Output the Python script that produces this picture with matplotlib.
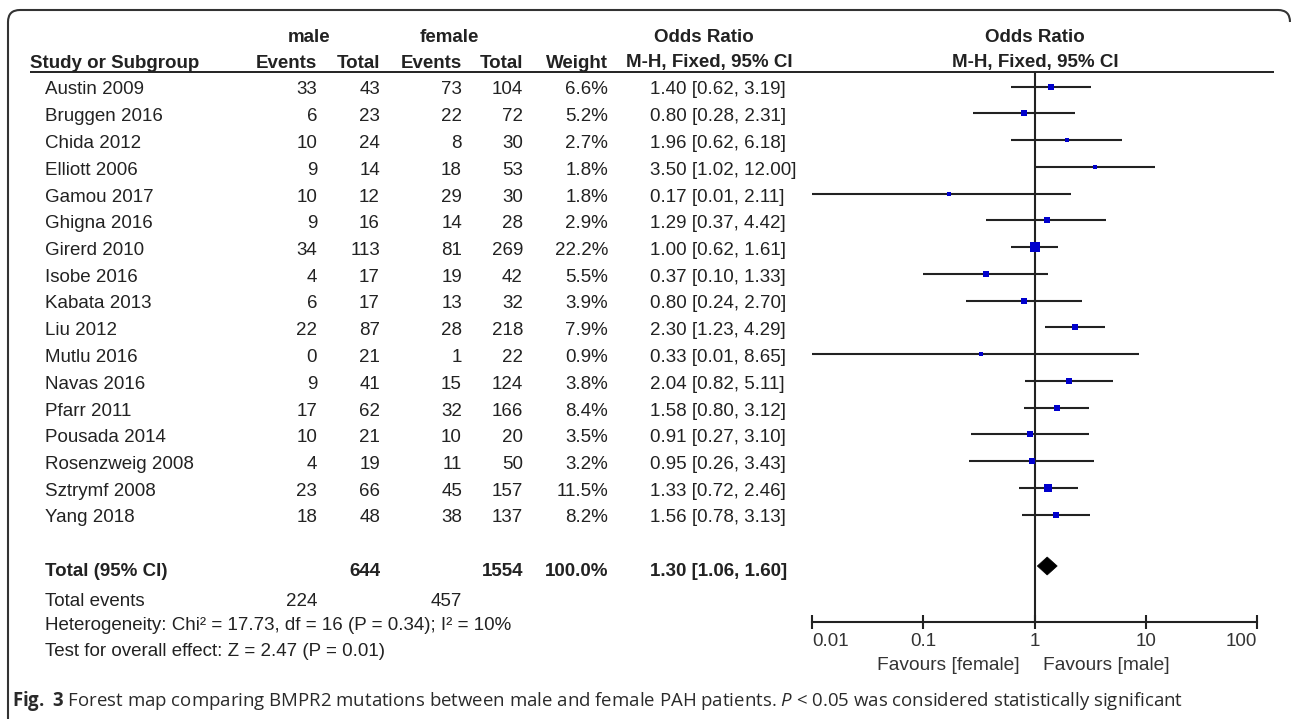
import matplotlib
matplotlib.use("Agg")
import matplotlib.pyplot as plt
import numpy as np
from matplotlib.path import Path
from matplotlib.patches import PathPatch, Polygon

# ---------------- data ----------------
studies = ["Austin 2009", "Bruggen 2016", "Chida 2012", "Elliott 2006", "Gamou 2017",
           "Ghigna 2016", "Girerd 2010", "Isobe 2016", "Kabata 2013", "Liu 2012",
           "Mutlu 2016", "Navas 2016", "Pfarr 2011", "Pousada 2014", "Rosenzweig 2008",
           "Sztrymf 2008", "Yang 2018"]
male_events = [33, 6, 10, 9, 10, 9, 34, 4, 6, 22, 0, 9, 17, 10, 4, 23, 18]
male_total = [43, 23, 24, 14, 12, 16, 113, 17, 17, 87, 21, 41, 62, 21, 19, 66, 48]
female_events = [73, 22, 8, 18, 29, 14, 81, 19, 13, 28, 1, 15, 32, 10, 11, 45, 38]
female_total = [104, 72, 30, 53, 30, 28, 269, 42, 32, 218, 22, 124, 166, 20, 50, 157, 137]
weight = [6.6, 5.2, 2.7, 1.8, 1.8, 2.9, 22.2, 5.5, 3.9, 7.9, 0.9, 3.8, 8.4, 3.5, 3.2, 11.5, 8.2]
odds_ratio = [1.40, 0.80, 1.96, 3.50, 0.17, 1.29, 1.00, 0.37, 0.80, 2.30, 0.33, 2.04, 1.58, 0.91, 0.95, 1.33, 1.56]
ci_low = [0.62, 0.28, 0.62, 1.02, 0.01, 0.37, 0.62, 0.10, 0.24, 1.23, 0.01, 0.82, 0.80, 0.27, 0.26, 0.72, 0.78]
ci_high = [3.19, 2.31, 6.18, 12.00, 2.11, 4.42, 1.61, 1.33, 2.70, 4.29, 8.65, 5.11, 3.12, 3.10, 3.43, 2.46, 3.13]

total_male = 644
total_female = 1554
total_weight = "100.0%"
total_or, total_low, total_high = 1.30, 1.06, 1.60
events_male_total = 224
events_female_total = 457
heterogeneity = "Heterogeneity: Chi\u00b2 = 17.73, df = 16 (P = 0.34); I\u00b2 = 10%"
overall = "Test for overall effect: Z = 2.47 (P = 0.01)"
tick_values = [0.01, 0.1, 1, 10, 100]
tick_labels = ["0.01", "0.1", "1", "10", "100"]
favours_left = "Favours [female]"
favours_right = "Favours [male]"

# ---------------- layout ----------------
W, H = 1292, 719
fig = plt.figure(figsize=(W / 100, H / 100), dpi=100)
fig.patch.set_facecolor("white")

ax = fig.add_axes([0, 0, 1, 1])
ax.set_xlim(0, W)
ax.set_ylim(H, 0)
ax.axis("off")

TXT = "#222222"
FONT = "Liberation Sans"
FS = 13.5

row0, dy = 86.5, 26.75
text_off = 3.5
rows_y = [row0 + dy * i for i in range(len(studies))]

x_name = 45
x_me, x_mt, x_fe, x_ft, x_w, x_or = 317, 380, 462, 523, 608, 650

def T(x, y, s, ha="left", bold=False, size=FS, color=TXT, family=FONT):
    ax.text(x, y, s, ha=ha, va="center", fontsize=size, color=color,
            fontweight="bold" if bold else "normal", family=family)

# header
T(309, 37, "male", ha="center", bold=True)
T(449, 37, "female", ha="center", bold=True)
T(704, 37, "Odds Ratio", ha="center", bold=True)
T(1035, 37, "Odds Ratio", ha="center", bold=True)
T(30, 63, "Study or Subgroup", bold=True)
T(x_me, 63, "Events", ha="right", bold=True)
T(x_mt, 63, "Total", ha="right", bold=True)
T(x_fe, 63, "Events", ha="right", bold=True)
T(x_ft, 63, "Total", ha="right", bold=True)
T(x_w, 63, "Weight", ha="right", bold=True)
T(709, 63, "M-H, Fixed, 95% CI", ha="center", bold=True)
T(1035, 63, "M-H, Fixed, 95% CI", ha="center", bold=True)
ax.plot([30, 1274], [72, 72], color="#222222", lw=1.4, solid_capstyle="butt")

for i, name in enumerate(studies):
    y = rows_y[i] + text_off
    T(x_name, y, name)
    T(x_me, y, str(male_events[i]), ha="right")
    T(x_mt, y, str(male_total[i]), ha="right")
    T(x_fe, y, str(female_events[i]), ha="right")
    T(x_ft, y, str(female_total[i]), ha="right")
    T(x_w, y, f"{weight[i]:.1f}%", ha="right")
    T(x_or, y, f"{odds_ratio[i]:.2f} [{ci_low[i]:.2f}, {ci_high[i]:.2f}]")

ytot = 571
T(x_name, ytot, "Total (95% CI)", bold=True)
T(x_mt, ytot, str(total_male), ha="right", bold=True)
T(x_ft, ytot, str(total_female), ha="right", bold=True)
T(x_w, ytot, total_weight, ha="right", bold=True)
T(x_or, ytot, f"{total_or:.2f} [{total_low:.2f}, {total_high:.2f}]", bold=True)
T(x_name, 601, "Total events")
T(x_me, 601, str(events_male_total), ha="right")
T(x_fe, 601, str(events_female_total), ha="right")
T(x_name, 626, heterogeneity)
T(x_name, 651, overall)

# frame (rounded top corners, left side)
r = 12
verts = [(8, H), (8, 10 + r), (8, 10), (8 + r, 10), (1290 - r, 10), (1290, 10), (1290, 10 + r)]
codes = [Path.MOVETO, Path.LINETO, Path.CURVE3, Path.CURVE3, Path.LINETO, Path.CURVE3, Path.CURVE3]
ax.add_patch(PathPatch(Path(verts, codes), fill=False, edgecolor="#333333", lw=1.5))

# ---------------- forest axes ----------------
x0, x1, ytop, ybot = 812, 1257, 72, 622
fax = fig.add_axes([x0 / W, 1 - ybot / H, (x1 - x0) / W, (ybot - ytop) / H])
fax.set_xscale("log")
fax.set_xlim(0.01, 100)
fax.set_ylim(ybot, ytop)
fax.patch.set_alpha(0)
for s in ["top", "left", "right"]:
    fax.spines[s].set_visible(False)
fax.spines["bottom"].set_linewidth(1.5)
fax.spines["bottom"].set_color("#222222")
fax.set_yticks([])
fax.set_xticks(tick_values)
fax.set_xticklabels(tick_labels)
fax.xaxis.set_minor_locator(matplotlib.ticker.NullLocator())
fax.tick_params(axis="x", direction="inout", length=10, width=1.5, color="#222222",
                labelsize=FS, labelcolor="#333333", pad=3)
labs = fax.get_xticklabels()
for lab in labs:
    lab.set_family(FONT)
labs[0].set_horizontalalignment("left")
labs[-1].set_horizontalalignment("right")

fax.axvline(1, color="#222222", lw=1.5, zorder=1)

for i in range(len(studies)):
    y = rows_y[i]
    fax.plot([ci_low[i], ci_high[i]], [y, y], color="#222222", lw=1.5,
             solid_capstyle="butt", zorder=2, clip_on=False)
    side_px = 2.5 + 1.5 * np.sqrt(weight[i])
    fax.plot([odds_ratio[i]], [y], marker="s", linestyle="none",
             markersize=side_px * 0.72, color="#0000cc", markeredgewidth=0, zorder=3)

yd, hd = 566, 9
fax.add_patch(Polygon([(total_low, yd), (total_or, yd - hd), (total_high, yd), (total_or, yd + hd)],
                      closed=True, facecolor="black", edgecolor="black", lw=0.5, zorder=4))

fax.text(0.74, 665, favours_left, ha="right", va="center", fontsize=13.8,
         color="#333333", family=FONT, clip_on=False)
fax.text(1.19, 665, favours_right, ha="left", va="center", fontsize=13.8,
         color="#333333", family=FONT, clip_on=False)

# ---------------- caption ----------------
plt.rcParams["mathtext.fontset"] = "custom"
plt.rcParams["mathtext.rm"] = "Open Sans"
plt.rcParams["mathtext.bf"] = "Open Sans:bold"
plt.rcParams["mathtext.it"] = "Open Sans:italic"
caption = (r"$\mathbf{Fig.\ 3}$ Forest map comparing BMPR2 mutations between male and female PAH patients. "
           r"$\mathit{P}$ < 0.05 was considered statistically significant")
ax.text(12, 701, caption, ha="left", va="center", fontsize=13.45, color="#2a2a2a", family="Open Sans")

fig.savefig("out.png", dpi=100, facecolor="white")
